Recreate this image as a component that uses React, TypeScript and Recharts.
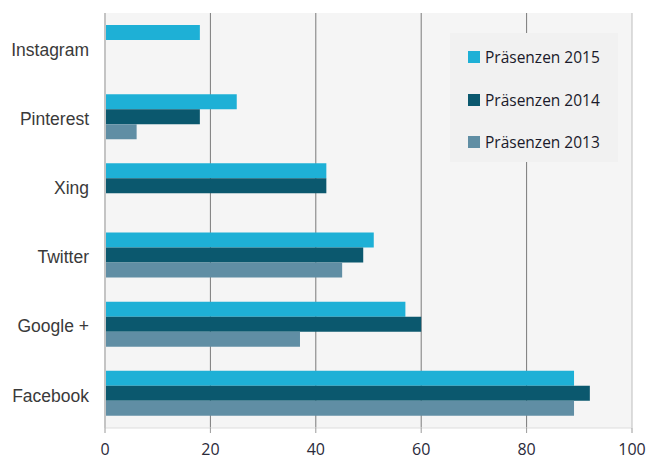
import React from 'react';
import { BarChart, Bar, XAxis, YAxis, CartesianGrid, Legend, ReferenceLine } from 'recharts';

const categories = ['Instagram', 'Pinterest', 'Xing', 'Twitter', 'Google +', 'Facebook'];
const values2015: (number | null)[] = [18, 25, 42, 51, 57, 89];
const values2014: (number | null)[] = [null, 18, 42, 49, 60, 92];
const values2013: (number | null)[] = [null, 6, null, 45, 37, 89];
const xTicks = [0, 20, 40, 60, 80, 100];

const seriesNames = ['Präsenzen 2015', 'Präsenzen 2014', 'Präsenzen 2013'];
const colors = ['#1eb0d6', '#0b586e', '#608ea4'];

const data = categories.map((c, i) => ({
  name: c,
  p2015: values2015[i],
  p2014: values2014[i],
  p2013: values2013[i],
}));

const LegendContent = () => (
  <div
    style={{
      width: 168,
      height: 129,
      background: '#f1f1f1',
      boxSizing: 'border-box',
      paddingTop: 3,
    }}
  >
    {seriesNames.map((n, i) => (
      <div key={n} style={{ display: 'flex', alignItems: 'center', height: 42.5, marginLeft: 18 }}>
        <div style={{ width: 12, height: 12, background: colors[i], marginRight: 5 }} />
        <span style={{ fontFamily: 'Open Sans', fontSize: 15.5, color: '#1a1a2a' }}>{n}</span>
      </div>
    ))}
  </div>
);

export default function App() {
  return (
    <div style={{ position: 'absolute', left: 0, top: 0, width: 646, height: 459, background: '#fff' }}>
      <BarChart
        width={646}
        height={459}
        data={data}
        layout="vertical"
        margin={{ top: 13, right: 14, bottom: 0, left: 0 }}
        barSize={15}
        barGap={0}
      >
        <CartesianGrid
          horizontal={false}
          vertical
          verticalValues={[20, 40, 60, 80]}
          stroke="#7a7a7a"
          fill="#f5f5f5"
          fillOpacity={1}
        />
        <ReferenceLine x={100} stroke="#bdbdbd" />
        <XAxis
          type="number"
          domain={[0, 100]}
          ticks={xTicks}
          height={31}
          axisLine={{ stroke: '#dddddd' }}
          tickLine={{ stroke: '#9a9a9a' }}
          tickSize={5}
          tickMargin={11}
          tick={{ fontFamily: 'Open Sans', fontSize: 16, fill: '#2a2a3a' }}
          interval={0}
        />
        <YAxis
          type="category"
          dataKey="name"
          width={105}
          axisLine={{ stroke: '#c4c4c4', strokeWidth: 2 }}
          tickLine={false}
          tickMargin={10}
          tick={{ fontFamily: 'Liberation Sans', fontSize: 17.5, fill: '#3a3a3a', dy: 2 }}
          interval={0}
        />
        <Legend
          layout="vertical"
          align="center"
          verticalAlign="middle"
          content={<LegendContent />}
          wrapperStyle={{ left: 450, top: 33, width: 168, height: 129 }}
        />
        <Bar dataKey="p2015" name={seriesNames[0]} fill={colors[0]} isAnimationActive={false} />
        <Bar dataKey="p2014" name={seriesNames[1]} fill={colors[1]} isAnimationActive={false} />
        <Bar dataKey="p2013" name={seriesNames[2]} fill={colors[2]} isAnimationActive={false} />
      </BarChart>
    </div>
  );
}
